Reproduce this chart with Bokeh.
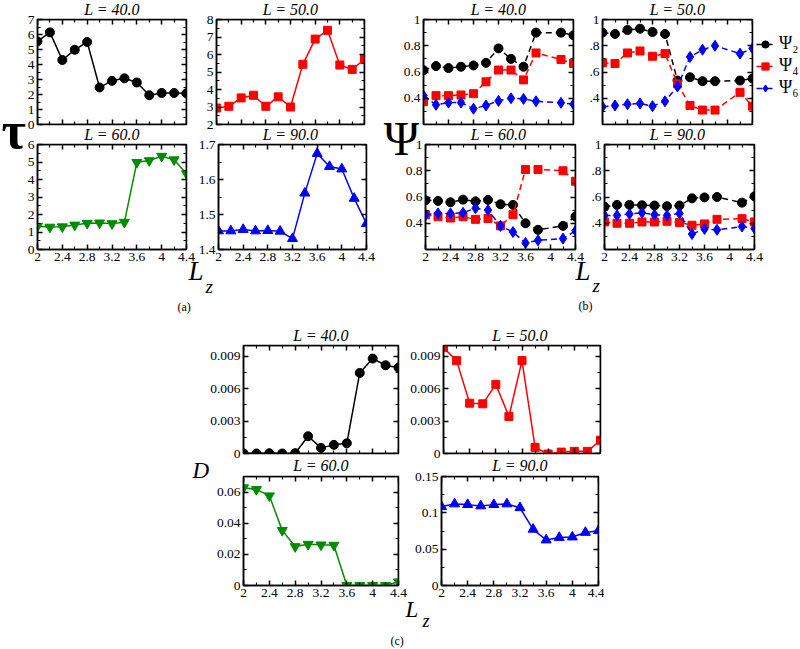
from bokeh.plotting import figure
from bokeh.layouts import row, column
from bokeh.models import (Range1d, LinearAxis, FixedTicker, CustomJSTickFormatter,
                          Label, Legend, LegendItem, GridBox)
from bokeh.embed import file_html
from bokeh.resources import INLINE

# ---------------- data ----------------
LZ = [2.0, 2.2, 2.4, 2.6, 2.8, 3.0, 3.2, 3.4, 3.6, 3.8, 4.0, 4.2, 4.4]
LZ_PSI = [2.0, 2.2, 2.4, 2.6, 2.8, 3.0, 3.2, 3.4, 3.6, 3.8, 4.2, 4.4]
TITLES = ["L = 40.0", "L = 50.0", "L = 60.0", "L = 90.0"]

TAU_40 = [5.54, 6.14, 4.30, 4.98, 5.50, 2.47, 2.91, 3.08, 2.80, 1.95, 2.10, 2.10, 2.08]
TAU_50 = [2.94, 3.04, 3.52, 3.67, 3.04, 3.58, 3.00, 5.44, 6.88, 7.38, 5.40, 5.15, 5.73]
TAU_60 = [1.33, 1.28, 1.30, 1.40, 1.50, 1.52, 1.48, 1.56, 4.98, 5.08, 5.33, 5.13, 4.33]
TAU_90 = [1.453, 1.453, 1.457, 1.453, 1.454, 1.452, 1.431, 1.561, 1.674, 1.637, 1.630, 1.546, 1.474]

PSI2_40 = [0.614, 0.645, 0.630, 0.640, 0.650, 0.670, 0.780, 0.700, 0.640, 0.900, 0.900, 0.880]
PSI4_40 = [0.375, 0.420, 0.420, 0.425, 0.435, 0.525, 0.615, 0.615, 0.540, 0.745, 0.695, 0.665]
PSI6_40 = [0.420, 0.350, 0.367, 0.367, 0.320, 0.345, 0.380, 0.400, 0.395, 0.377, 0.365, 0.355]

PSI2_50 = [0.900, 0.890, 0.920, 0.930, 0.905, 0.890, 0.535, 0.560, 0.530, 0.530, 0.535, 0.550]
PSI4_50 = [0.670, 0.665, 0.745, 0.760, 0.720, 0.740, 0.510, 0.345, 0.310, 0.310, 0.445, 0.340]
PSI6_50 = [0.335, 0.345, 0.355, 0.360, 0.340, 0.377, 0.490, 0.715, 0.770, 0.800, 0.740, 0.780]

PSI2_60 = [0.575, 0.570, 0.560, 0.580, 0.567, 0.578, 0.545, 0.540, 0.400, 0.350, 0.380, 0.452]
PSI4_60 = [0.465, 0.450, 0.440, 0.450, 0.430, 0.437, 0.380, 0.465, 0.810, 0.810, 0.800, 0.720]
PSI6_60 = [0.465, 0.475, 0.475, 0.480, 0.515, 0.500, 0.380, 0.333, 0.250, 0.270, 0.283, 0.343]

PSI2_90 = [0.525, 0.540, 0.540, 0.537, 0.535, 0.530, 0.535, 0.590, 0.597, 0.600, 0.557, 0.605]
PSI4_90 = [0.410, 0.400, 0.400, 0.410, 0.410, 0.415, 0.405, 0.385, 0.395, 0.430, 0.435, 0.410]
PSI6_90 = [0.460, 0.460, 0.470, 0.480, 0.465, 0.460, 0.475, 0.318, 0.357, 0.350, 0.375, 0.360]

D_40 = [0.00002, 0.0, 0.00002, 0.0, 0.00003, 0.0016, 0.00052, 0.0008, 0.00095, 0.00746, 0.00879, 0.00817, 0.00795]
D_50 = [0.0098, 0.0086, 0.00466, 0.0046, 0.0064, 0.00343, 0.0086, 0.00057, -0.00005, 0.00013, 0.0002, 0.0002, 0.00123]
D_60 = [0.0628, 0.0617, 0.0576, 0.0354, 0.0250, 0.0265, 0.0261, 0.0259, 0.0, 0.0, 0.0, 0.0, 0.0024]
D_90 = [0.1086, 0.1122, 0.1113, 0.1095, 0.1113, 0.1122, 0.1070, 0.0773, 0.0626, 0.0660, 0.0667, 0.0730, 0.0754]

LEGEND_LABELS = ["Ψ₂", "Ψ₄", "Ψ₆"]

# axis ticks
X_MAJOR = [2.0, 2.4, 2.8, 3.2, 3.6, 4.0, 4.4]
X_MINOR = [2.2, 2.6, 3.0, 3.4, 3.8, 4.2]
TAU_YR = [(0, 7), (2, 8), (0, 6), (1.4, 1.7)]
TAU_MAJ = [[0, 1, 2, 3, 4, 5, 6, 7], [2, 3, 4, 5, 6, 7, 8], [0, 1, 2, 3, 4, 5, 6], [1.4, 1.5, 1.6, 1.7]]
TAU_MIN = [[0.5, 1.5, 2.5, 3.5, 4.5, 5.5, 6.5], [2.5, 3.5, 4.5, 5.5, 6.5, 7.5],
           [0.5, 1.5, 2.5, 3.5, 4.5, 5.5], [1.45, 1.55, 1.65]]
PSI_YR = (0.2, 1.0)
PSI_MAJ = [0.4, 0.6, 0.8, 1.0]
PSI_MIN = [0.3, 0.5, 0.7, 0.9]
D_YR = [(0, 0.01), (0, 0.01), (0, 0.07), (0, 0.15)]
D_MAJ = [[0, 0.003, 0.006, 0.009], [0, 0.003, 0.006, 0.009], [0, 0.02, 0.04, 0.06], [0, 0.05, 0.1, 0.15]]
D_MIN = [[0.0015, 0.0045, 0.0075], [0.0015, 0.0045, 0.0075], [0.01, 0.03, 0.05], [0.025, 0.075, 0.125]]

# ---------------- style ----------------
FONT = "Liberation Serif"
BLACK, RED, GREEN, BLUE = "#000000", "#ff0000", "#008b00", "#0000ff"
TICK = dict(major_tick_in=5, major_tick_out=0, minor_tick_in=3, minor_tick_out=0,
            axis_line_color="black", axis_line_width=1.5,
            major_tick_line_color="black", major_tick_line_width=1.5,
            minor_tick_line_color="black", minor_tick_line_width=1.2,
            major_label_text_font=FONT, major_label_text_font_size="13.5px",
            major_label_text_color="black")
NUM = "return tick.toString();"
NUM_SHORT = "return (tick == 1) ? '1' : tick.toString().replace('0.', '.');"
EMPTY = "return '';"
W, H = 800, 648
DASH = "6 4"


def make_panel(fw, fh, yr, ymaj, ymin, bl, br, bt, bb, xlabels, ycode=NUM):
    p = figure(frame_width=fw, frame_height=fh, x_range=Range1d(2.0, 4.4),
               y_range=Range1d(*yr), x_axis_location=None, y_axis_location=None,
               toolbar_location=None, output_backend="svg",
               min_border_left=bl, min_border_right=br, min_border_top=bt, min_border_bottom=bb)
    p.xgrid.visible = False
    p.ygrid.visible = False
    p.outline_line_color = "black"
    p.outline_line_width = 1.5
    p.border_fill_alpha = 0
    p.background_fill_color = "white"
    xt = FixedTicker(ticks=X_MAJOR, minor_ticks=X_MINOR)
    yt = FixedTicker(ticks=ymaj, minor_ticks=ymin)
    p.add_layout(LinearAxis(ticker=yt, formatter=CustomJSTickFormatter(code=ycode),
                            major_label_standoff=3, **TICK), "left")
    p.add_layout(LinearAxis(ticker=yt, formatter=CustomJSTickFormatter(code=EMPTY),
                            fixed_location=4.4, **TICK), "right")
    p.add_layout(LinearAxis(ticker=xt, formatter=CustomJSTickFormatter(code=EMPTY),
                            fixed_location=yr[1], **TICK), "above")
    if xlabels:
        p.add_layout(LinearAxis(ticker=xt, formatter=CustomJSTickFormatter(code=NUM),
                                major_label_standoff=3, **TICK), "below")
    else:
        p.add_layout(LinearAxis(ticker=xt, formatter=CustomJSTickFormatter(code=EMPTY),
                                fixed_location=yr[0], **TICK), "below")
    return p


def series(p, x, y, color, marker, size, dash="solid"):
    l = p.line(x, y, line_color=color, line_width=1.5, line_dash=dash)
    s = p.scatter(x, y, marker=marker, size=size, fill_color=color, line_color=color)
    return l, s


# ---------- panel (a): tau ----------
FH = 105
a1l = make_panel(149, FH, TAU_YR[0], TAU_MAJ[0], TAU_MIN[0], 37, 9, 19, 9, False)
a1r = make_panel(148, FH, TAU_YR[1], TAU_MAJ[1], TAU_MIN[1], 21, 16, 19, 9, False)
a2l = make_panel(149, FH, TAU_YR[2], TAU_MAJ[2], TAU_MIN[2], 37, 9, 11, 71, True)
a2r = make_panel(148, FH, TAU_YR[3], TAU_MAJ[3], TAU_MIN[3], 21, 16, 11, 71, True)
series(a1l, LZ, TAU_40, BLACK, "circle", 9)
series(a1r, LZ, TAU_50, RED, "square", 8)
series(a2l, LZ, TAU_60, GREEN, "inverted_triangle", 10)
series(a2r, LZ, TAU_90, BLUE, "triangle", 10)

# ---------- panel (b): psi ----------
b1l = make_panel(150, FH, PSI_YR, PSI_MAJ, PSI_MIN, 43, 9, 19, 9, False)
b1r = make_panel(150, FH, PSI_YR, PSI_MAJ, PSI_MIN, 20, 48, 19, 9, False, NUM_SHORT)
b2l = make_panel(150, FH, PSI_YR, PSI_MAJ, PSI_MIN, 43, 9, 11, 71, True)
b2r = make_panel(150, FH, PSI_YR, PSI_MAJ, PSI_MIN, 20, 48, 11, 71, True, NUM_SHORT)
psi_sets = [(b1l, PSI2_40, PSI4_40, PSI6_40), (b1r, PSI2_50, PSI4_50, PSI6_50),
            (b2l, PSI2_60, PSI4_60, PSI6_60), (b2r, PSI2_90, PSI4_90, PSI6_90)]
for p, s2, s4, s6 in psi_sets:
    series(p, LZ_PSI, s2, BLACK, "circle", 9, DASH)
    series(p, LZ_PSI, s4, RED, "square", 8, DASH)
    series(p, LZ_PSI, s6, BLUE, "diamond", 11, DASH)

# ---------- panel (c): D ----------
c1l = make_panel(155, 108, D_YR[0], D_MAJ[0], D_MIN[0], 243, 9, 25, 9, False)
c1r = make_panel(157, 108, D_YR[1], D_MAJ[1], D_MIN[1], 34, 6, 25, 9, False)
c2l = make_panel(155, 109, D_YR[2], D_MAJ[2], D_MIN[2], 243, 9, 14, 63, True)
c2r = make_panel(157, 109, D_YR[3], D_MAJ[3], D_MIN[3], 34, 6, 14, 63, True)
series(c1l, LZ, D_40, BLACK, "circle", 9)
series(c1r, LZ, D_50, RED, "square", 8)
series(c2l, LZ, D_60, GREEN, "inverted_triangle", 10)
series(c2r, LZ, D_90, BLUE, "triangle", 10)

main = column(row(a1l, a1r, b1l, b1r), row(a2l, a2r, b2l, b2r),
              row(c1l, c1r), row(c2l, c2r))

# ---------- transparent text overlay (page pixel coordinates, y downwards) ----------
ov = figure(frame_width=W, frame_height=H, x_range=Range1d(0, W), y_range=Range1d(H, 0),
            x_axis_location=None, y_axis_location=None, toolbar_location=None,
            output_backend="svg", min_border=0)
ov.xgrid.visible = False
ov.ygrid.visible = False
ov.outline_line_color = None
ov.border_fill_alpha = 0
ov.background_fill_alpha = 0


def txt(t, x, base, size, style="normal", align="left"):
    # base = wanted baseline; the label is anchored at the middle of its text box
    ov.add_layout(Label(x=x, y=base - 0.3375 * size, text=t, text_font=FONT,
                        text_font_size=f"{size}px", text_font_style=style, text_align=align,
                        text_baseline="middle", text_color="black"))


title_spots = [(TITLES[0], 111.5, 14.5), (TITLES[1], 290, 14.5), (TITLES[2], 111.5, 139.5), (TITLES[3], 290, 139.5),
               (TITLES[0], 498, 14.5), (TITLES[1], 677, 14.5), (TITLES[2], 498, 139.5), (TITLES[3], 677, 139.5),
               (TITLES[0], 320.5, 340.5), (TITLES[1], 519.5, 340.5), (TITLES[2], 320.5, 470.5), (TITLES[3], 519.5, 470.5)]
for t, x, y in title_spots:
    txt(t, x, y, 16, style="italic", align="center")

txt("τ", 1, 147, 53, style="bold")
txt("Ψ", 401, 154, 48, align="center")
txt("D", 192, 478, 23, style="italic")
txt("L", 188, 280, 27, style="italic")
txt("z", 205, 292, 19, style="italic")
txt("L", 575, 280, 27, style="italic")
txt("z", 592, 291, 19, style="italic")
txt("L", 405, 617, 23, style="italic")
txt("z", 422, 627, 18, style="italic")
txt("(a)", 177, 311, 12)
txt("(b)", 578, 310, 12)
txt("(c)", 390, 645, 12)

# legend for the psi panels: style proxies (a single NaN point, so nothing is drawn)
NAN = [float("nan")]
proxies = []
for color, marker, size in [(BLACK, "circle", 9), (RED, "square", 8), (BLUE, "diamond", 11)]:
    pl = ov.line(x=NAN, y=NAN, line_color=color, line_width=1.5, line_dash=DASH)
    ps = ov.scatter(x=NAN, y=NAN, marker=marker, size=size, fill_color=color, line_color=color)
    proxies.append([pl, ps])
leg = Legend(items=[LegendItem(label=lab, renderers=rs) for lab, rs in zip(LEGEND_LABELS, proxies)],
             location=(756, H - 98), label_text_font=FONT, label_text_font_size="18px",
             label_text_color="black",
             glyph_width=18, glyph_height=20, label_height=20, label_standoff=5,
             spacing=1, padding=0, margin=0, border_line_color=None, background_fill_alpha=0)
ov.add_layout(leg, "center")

page = GridBox(children=[(main, 0, 0), (ov, 0, 0)])

open("out.html", "w").write(file_html(page, INLINE, title="chart"))
